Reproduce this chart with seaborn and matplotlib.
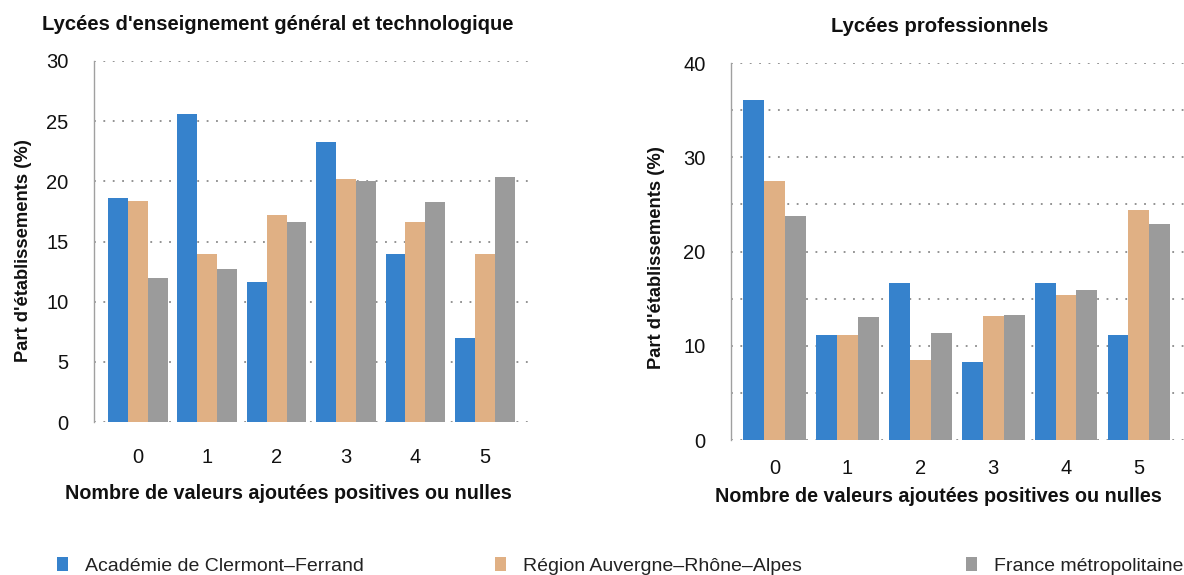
import matplotlib
matplotlib.use("Agg")
import matplotlib.pyplot as plt
import pandas as pd
import seaborn as sns
from matplotlib.patches import Patch
from matplotlib.ticker import MultipleLocator

# Données (%)
categories = ["0", "1", "2", "3", "4", "5"]
series = ["Académie de Clermont-Ferrand", "Région Auvergne-Rhône-Alpes", "France métropolitaine"]
couleurs = ["#3682CC", "#E0B084", "#9B9B9B"]

lgt_academie = [18.6, 25.6, 11.6, 23.3, 14.0, 7.0]
lgt_region = [18.4, 14.0, 17.2, 20.2, 16.6, 14.0]
lgt_france = [12.0, 12.7, 16.6, 20.0, 18.3, 20.4]

lp_academie = [36.1, 11.1, 16.7, 8.3, 16.7, 11.1]
lp_region = [27.5, 11.1, 8.5, 13.2, 15.4, 24.4]
lp_france = [23.8, 13.1, 11.4, 13.3, 15.9, 22.9]


def tableau(*valeurs):
    lignes = []
    for nom, vals in zip(series, valeurs):
        for cat, v in zip(categories, vals):
            lignes.append({"cat": cat, "serie": nom, "valeur": v})
    return pd.DataFrame(lignes)


sns.set_theme(style="white")
plt.rcParams["font.family"] = ["Liberation Sans", "DejaVu Sans"]

fig = plt.figure(figsize=(11.84, 5.75), dpi=100)
ax_g = fig.add_axes([94 / 1184, 153 / 575, 436 / 1184, 361 / 575])
ax_p = fig.add_axes([731 / 1184, 135 / 575, 453 / 1184, 377 / 575])

palette = dict(zip(series, couleurs))
config = [
    (ax_g, tableau(lgt_academie, lgt_region, lgt_france), 30, 5, None,
     "Lycées d'enseignement général et technologique", (0.422, 1.086),
     (-0.63, 5.65), 19, (0.445, -0.172), (-0.143, 0.476)),
    (ax_p, tableau(lp_academie, lp_region, lp_france), 40, 10, 5,
     "Lycées professionnels", (0.461, 1.082),
     (-0.6, 5.62), 14, (0.457, -0.124), (-0.145, 0.485)),
]

for ax, df, ymax, major, minor, titre, pos_titre, xlim, pad_x, pos_xl, pos_yl in config:
    sns.barplot(data=df, x="cat", y="valeur", hue="serie", order=categories,
                hue_order=series, palette=palette, width=0.86, linewidth=0,
                saturation=1, legend=False, ax=ax)
    ax.set_ylim(0, ymax)
    ax.set_xlim(*xlim)
    ax.yaxis.set_major_locator(MultipleLocator(major))
    if minor:
        ax.yaxis.set_minor_locator(MultipleLocator(minor))
        ax.tick_params(axis="y", which="minor", length=0)
    ax.set_axisbelow(True)
    ax.grid(axis="y", which="both", color="#8a8a8a", linestyle=(0, (1, 4.2)), linewidth=1.3)
    for cote in ["top", "right", "bottom"]:
        ax.spines[cote].set_visible(False)
    ax.spines["left"].set_color("#a0a0a0")
    ax.spines["left"].set_linewidth(1)
    ax.tick_params(axis="y", which="major", direction="out", length=9.4, width=1,
                   color="#a0a0a0", pad=9, labelsize=14.5, labelcolor="#111111")
    ax.tick_params(axis="x", length=0, pad=pad_x, labelsize=14.5, labelcolor="#111111")
    ax.set_title(titre, x=pos_titre[0], y=pos_titre[1], pad=0, fontsize=14.6,
                 fontweight="bold", color="#111111")
    ax.set_xlabel("Nombre de valeurs ajoutées positives ou nulles", fontsize=14.2,
                  fontweight="bold", color="#111111")
    ax.set_ylabel("Part d'établissements (%)", fontsize=13.2, fontweight="bold",
                  color="#111111")
    ax.xaxis.set_label_coords(*pos_xl)
    ax.yaxis.set_label_coords(*pos_yl)

# légende en bas, trois entrées placées séparément
for nom, couleur, x in zip(series, couleurs, [57, 495, 966]):
    fig.legend(handles=[Patch(facecolor=couleur, edgecolor="none")],
               labels=[nom.replace("-", "–")], loc="center left",
               bbox_to_anchor=(x / 1184, 0.016), frameon=False, fontsize=14,
               handlelength=0.55, handleheight=0.7, handletextpad=0.9,
               borderpad=0, borderaxespad=0, labelcolor="#222222")

fig.savefig("out.png", dpi=100)
